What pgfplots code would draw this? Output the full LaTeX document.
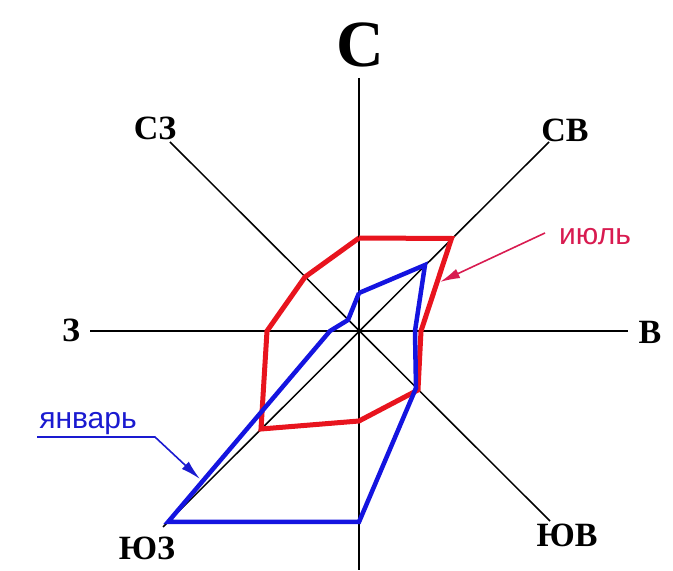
\documentclass[border=0pt]{standalone}
\usepackage{pgfplots}
\pgfplotsset{compat=1.18}
\usepackage{fontspec}
\setmainfont{Liberation Serif}
\newfontfamily\labelfont{Liberation Sans}
\usetikzlibrary{arrows.meta}

\definecolor{julyred}{HTML}{E8141E}
\definecolor{janblue}{HTML}{1414E0}
\definecolor{julytext}{HTML}{D81B50}
\definecolor{jantext}{HTML}{1A1AD0}

% wind rose: radii read along each direction (pixels of the reference)
% order: N, NE, E, SE, S, SW, W, NW
\pgfplotstableread{
x y
0 93
92.5 92.5
62 0
59 -59
0 -90
-98 -98
-92 0
-54 54
0 93
}\july
\pgfplotstableread{
x y
0 38
66 66
56 0
57 -57
0 -191
-191 -191
-29 0
-11 11
0 38
}\january

\begin{document}
\begin{tikzpicture}
  \begin{axis}[
      x=1pt, y=1pt,
      xmin=-359, xmax=314,
      ymin=-239, ymax=331,
      hide axis,
      clip=false,
    ]
    \path (axis cs:-359,-239) rectangle (axis cs:314,331);
    % direction axes
    \addplot[black, line width=2pt] coordinates {(0,253) (0,-239)};
    \addplot[black, line width=2.8pt] coordinates {(-269,0) (269,0)};
    \addplot[black, line width=1.5pt] coordinates {(-189,189) (191,-190)};
    \addplot[black, line width=1.5pt] coordinates {(190,189) (-196,-196)};
    % series
    \addplot[julyred, line width=5pt, line join=miter] table {\july};
    \addplot[janblue, line width=4.5pt, line join=miter] table {\january};
    % compass labels
    \node[font=\fontsize{66}{66}\selectfont\bfseries] at (axis cs:1,286) {С};
    \node[font=\fontsize{34}{34}\selectfont\bfseries] at (axis cs:-204,203) {СЗ};
    \node[font=\fontsize{34}{34}\selectfont\bfseries] at (axis cs:206,201) {СВ};
    \node[font=\fontsize{34}{34}\selectfont\bfseries] at (axis cs:-288,1) {З};
    \node[font=\fontsize{34}{34}\selectfont\bfseries] at (axis cs:291,-1) {В};
    \node[font=\fontsize{34}{34}\selectfont\bfseries] at (axis cs:-212,-217) {ЮЗ};
    \node[font=\fontsize{34}{34}\selectfont\bfseries] at (axis cs:208,-204) {ЮВ};
    % series labels
    \node[font=\fontsize{30}{30}\selectfont\labelfont, text=julytext] at (axis cs:236,94) {июль};
    \draw[julytext, line width=1.6pt, -{Latex[length=20pt,width=10pt]}]
      (axis cs:186,98) -- (axis cs:81,49);
    \node[font=\fontsize{30}{30}\selectfont\labelfont, text=jantext] at (axis cs:-271,-93) {январь};
    \draw[jantext, line width=1.6pt, -{Latex[length=20pt,width=10pt]}]
      (axis cs:-322,-106) -- (axis cs:-204,-106) -- (axis cs:-159,-148);
  \end{axis}
\end{tikzpicture}
\end{document}
